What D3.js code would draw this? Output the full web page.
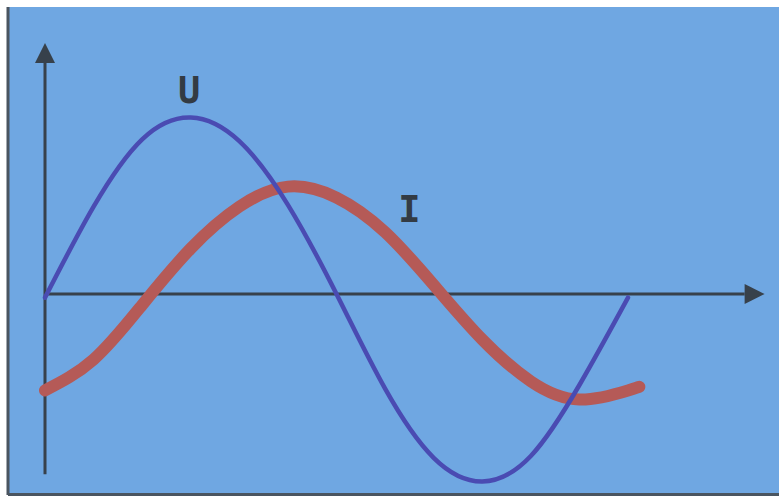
<!DOCTYPE html>
<html>
<head>
<meta charset="utf-8">
<script src="https://cdn.jsdelivr.net/npm/d3@7"></script>
<style>
  html, body { margin: 0; padding: 0; background: #ffffff; }
  svg { display: block; }
</style>
</head>
<body>
<svg id="chart" width="779" height="497"></svg>
<script>
// Phase angle (degrees) at which each value was taken
const phaseU = [0, 30, 60, 90, 120, 150, 180, 210, 240, 270, 300, 330, 360];
// Voltage U (relative amplitude)
const valuesU = [-0.02, 0.48, 0.85, 0.97, 0.84, 0.49, 0.0, -0.52, -0.90, -1.03, -0.89, -0.50, -0.02];

// Current I lags the voltage
const phaseI = [0, 30, 60, 90, 120, 150, 180, 210, 240, 270, 300, 330, 360, 367];
const valuesI = [-0.53, -0.36, -0.06, 0.25, 0.48, 0.59, 0.53, 0.34, 0.05, -0.25, -0.48, -0.58, -0.53, -0.51];

// Axis extents (phase for the horizontal axis, value for the vertical axis)
const xAxisExtent = [0, 445];
const yAxisExtent = [-0.99, 1.385];

// Curve labels: [text, phase, value]
const labels = [["U", 89, 1.05], ["I", 225, 0.395]];

const svg = d3.select("#chart");
const W = 779, H = 497;

// Panel: white top margin, dark left and bottom edge
svg.append("rect").attr("x", 8).attr("y", 7).attr("width", W - 8).attr("height", H - 9)
  .attr("fill", "#6fa7e2");
svg.append("line").attr("x1", 8).attr("y1", 7).attr("x2", 8).attr("y2", 495)
  .attr("stroke", "#4a5560").attr("stroke-width", 3);
svg.append("line").attr("x1", 8).attr("y1", 494.5).attr("x2", W).attr("y2", 494.5)
  .attr("stroke", "#4a5560").attr("stroke-width", 3);

const x = d3.scaleLinear().domain([0, 360]).range([45, 628]);
const y = d3.scaleLinear().domain([-1, 1]).range([476, 112]);

const axisColor = "#37414b";

// Arrowheads
const defs = svg.append("defs");
defs.append("marker")
  .attr("id", "arrow")
  .attr("viewBox", "0 0 10 10")
  .attr("refX", 0).attr("refY", 5)
  .attr("markerWidth", 21).attr("markerHeight", 20)
  .attr("markerUnits", "userSpaceOnUse")
  .attr("orient", "auto")
  .append("path")
  .attr("d", "M0,0 L10,5 L0,10 Z")
  .attr("fill", axisColor);

// Horizontal axis
svg.append("line")
  .attr("x1", x(xAxisExtent[0])).attr("y1", y(0))
  .attr("x2", x(xAxisExtent[1]) - 21).attr("y2", y(0))
  .attr("stroke", axisColor).attr("stroke-width", 3)
  .attr("marker-end", "url(#arrow)");

// Vertical axis
svg.append("line")
  .attr("x1", x(0)).attr("y1", y(yAxisExtent[0]))
  .attr("x2", x(0)).attr("y2", y(yAxisExtent[1]) + 21)
  .attr("stroke", axisColor).attr("stroke-width", 3)
  .attr("marker-end", "url(#arrow)");

// Current I (thick red)
const lineI = d3.line().x((d, i) => x(phaseI[i])).y(d => y(d)).curve(d3.curveNatural);
svg.append("path")
  .attr("d", lineI(valuesI))
  .attr("fill", "none")
  .attr("stroke", "#b55a57")
  .attr("stroke-width", 12)
  .attr("stroke-linecap", "round")
  .attr("stroke-linejoin", "round");

// Voltage U (thin blue-violet)
const lineU = d3.line().x((d, i) => x(phaseU[i])).y(d => y(d)).curve(d3.curveNatural);
svg.append("path")
  .attr("d", lineU(valuesU))
  .attr("fill", "none")
  .attr("stroke", "#4a4bb2")
  .attr("stroke-width", 4.5)
  .attr("stroke-linecap", "round")
  .attr("stroke-linejoin", "round");

// Labels
svg.selectAll("text.curve-label")
  .data(labels)
  .enter().append("text")
  .attr("class", "curve-label")
  .attr("x", d => x(d[1]))
  .attr("y", d => y(d[2]))
  .attr("text-anchor", "middle")
  .attr("font-family", "'DejaVu Sans Mono', monospace")
  .attr("font-weight", "bold")
  .attr("font-size", 37)
  .attr("fill", "#333b44")
  .text(d => d[0]);
</script>
</body>
</html>
